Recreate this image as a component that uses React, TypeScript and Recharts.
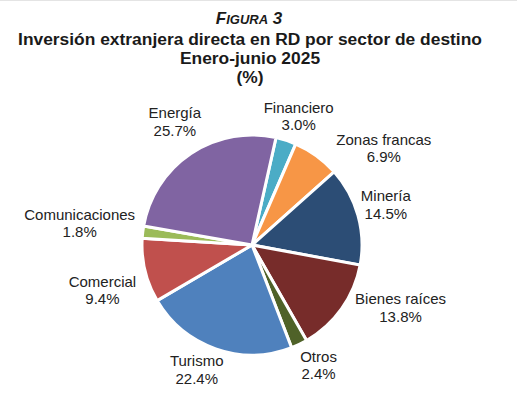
import React from "react";
import { PieChart, Pie, Cell } from "recharts";

const sectors = [
  "Financiero",
  "Zonas francas",
  "Minería",
  "Bienes raíces",
  "Otros",
  "Turismo",
  "Comercial",
  "Comunicaciones",
  "Energía",
];
const shares = [3.0, 6.9, 14.5, 13.8, 2.4, 22.4, 9.4, 1.8, 25.7];
const colors = [
  "#4BACC6",
  "#F79646",
  "#2C4D75",
  "#772C2A",
  "#4F6228",
  "#4F81BD",
  "#C0504D",
  "#9BBB59",
  "#8064A2",
];
// small label nudges (px) to mimic the original best-fit placement
const nudges: [number, number][] = [
  [-2, 1],
  [33, 14],
  [-7, -4],
  [11, -17],
  [7, -4],
  [-7, -5],
  [0, 13],
  [-1, -6],
  [4, -10],
];

const data = sectors.map((name, i) => ({ name, value: shares[i] }));

const FONT = "'Liberation Sans', Arial, sans-serif";
const RAD = Math.PI / 180;

function textWidth(s: string) {
  return s.length * 7.5;
}

const renderLabel = (props: any) => {
  const { cx, cy, midAngle, outerRadius, index } = props;
  const name = sectors[index];
  const pct = shares[index].toFixed(1) + "%";
  const ux = Math.cos(-midAngle * RAD);
  const uy = Math.sin(-midAngle * RAD);
  const R = outerRadius + 10;
  const w = Math.max(textWidth(name), textWidth(pct));
  const h = 34;
  const x = cx + ux * (R + w / 2) + nudges[index][0];
  const y = cy + uy * (R + h / 2) + nudges[index][1];
  return (
    <text
      x={x}
      y={y}
      textAnchor="middle"
      fontFamily={FONT}
      fontSize={15}
      fill="#222222"
    >
      <tspan x={x} dy={-3}>
        {name}
      </tspan>
      <tspan x={x} dy={17.5}>
        {pct}
      </tspan>
    </text>
  );
};

export default function App() {
  return (
    <div
      style={{
        position: "absolute",
        left: 0,
        top: 0,
        width: 517,
        height: 393,
        background: "#fff",
        borderTop: "1px solid #e4e4e4",
        boxSizing: "border-box",
      }}
    >
      <div style={{ position: "absolute", left: 0, top: -1 }}>
        <PieChart width={517} height={393}>
          <Pie
            data={data}
            dataKey="value"
            nameKey="name"
            cx={247}
            cy={240}
            outerRadius={110}
            startAngle={77.4}
            endAngle={-282.6}
            stroke="#ffffff"
            strokeWidth={3}
            label={renderLabel}
            labelLine={false}
            isAnimationActive={false}
          >
            {data.map((d, i) => (
              <Cell key={d.name} fill={colors[i]} />
            ))}
          </Pie>
        </PieChart>
      </div>
      <svg
        width={517}
        height={100}
        style={{ position: "absolute", left: 0, top: -1, pointerEvents: "none" }}
      >
        <text
          x={249}
          y={24}
          textAnchor="middle"
          fontFamily={FONT}
          fontWeight="bold"
          fontStyle="italic"
          fill="#1a1a1a"
        >
          <tspan fontSize={17}>F</tspan>
          <tspan fontSize={13}>IGURA</tspan>
          <tspan fontSize={17}> 3</tspan>
        </text>
        <text
          x={250}
          y={45}
          textAnchor="middle"
          fontFamily={FONT}
          fontWeight="bold"
          fontSize={17.4}
          fill="#1a1a1a"
        >
          Inversión extranjera directa en RD por sector de destino
        </text>
        <text
          x={250}
          y={64}
          textAnchor="middle"
          fontFamily={FONT}
          fontWeight="bold"
          fontSize={17.4}
          fill="#1a1a1a"
        >
          Enero-junio 2025
        </text>
        <text
          x={250}
          y={83}
          textAnchor="middle"
          fontFamily={FONT}
          fontWeight="bold"
          fontSize={17.4}
          fill="#1a1a1a"
        >
          (%)
        </text>
      </svg>
    </div>
  );
}
